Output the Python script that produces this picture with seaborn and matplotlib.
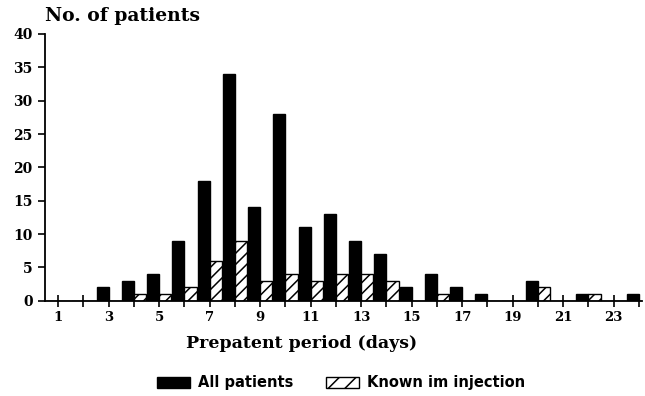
import matplotlib
matplotlib.use("Agg")
import matplotlib.pyplot as plt
from matplotlib.patches import Patch
import seaborn as sns
import pandas as pd

days = list(range(1, 25))
all_patients = [0, 0, 2, 3, 4, 9, 18, 34, 14, 28, 11, 13, 9, 7, 2, 4, 2, 1, 0, 3, 0, 1, 0, 1]
known_im = [0, 0, 0, 1, 1, 2, 6, 9, 3, 4, 3, 4, 4, 3, 0, 1, 0, 0, 0, 2, 0, 1, 0, 0]
groups = ["All patients", "Known im injection"]
y_ticks = [0, 5, 10, 15, 20, 25, 30, 35, 40]
x_labels = [str(d) if d % 2 == 1 else "" for d in days]

df = pd.DataFrame({
    "day": days * 2,
    "count": all_patients + known_im,
    "group": [groups[0]] * len(days) + [groups[1]] * len(days),
})

sns.set_theme(style="ticks")
plt.rcParams["font.family"] = ["DejaVu Serif"]
plt.rcParams["hatch.linewidth"] = 1.1
plt.rcParams["text.color"] = "black"

fig = plt.figure(figsize=(6.45, 3.96), dpi=100)
ax = fig.add_axes([45 / 645, 1 - 300.7 / 396, 597 / 645, (300.7 - 34) / 396])

sns.barplot(data=df, x="day", y="count", hue="group", order=days, hue_order=groups,
            palette=["black", "white"], dodge=True, width=0.96, legend=False,
            edgecolor="black", linewidth=1.0, saturation=1, ax=ax)

for p in ax.containers[1]:
    p.set_facecolor("white")
    p.set_edgecolor("black")
    p.set_hatch("///")

ax.set_ylim(0, 40)
ax.set_xlim(-0.52, 23.12)
ax.set_yticks(y_ticks)
ax.set_yticklabels([str(v) for v in y_ticks], fontsize=10, fontweight="bold", color="black")
ax.set_xticks(range(len(days)))
ax.set_xticklabels(x_labels, fontsize=9.5, fontweight="bold", color="black")
ax.tick_params(axis="x", direction="inout", length=9, width=1.2, pad=3, colors="black")
ax.tick_params(axis="y", direction="out", length=5, width=1.2, pad=4, colors="black")
for s in ["top", "right"]:
    ax.spines[s].set_visible(False)
for s in ["left", "bottom"]:
    ax.spines[s].set_linewidth(1.3)
    ax.spines[s].set_color("black")

ax.set_ylabel("")
ax.set_xlabel("Prepatent period (days)", fontsize=12.5, fontweight="bold", color="black")
ax.xaxis.set_label_coords((302 - 45) / 597, -(344 - 300.7) / (300.7 - 34))
ax.xaxis.label.set_va("center")

fig.text(45 / 645, 1 - 16 / 396, "No. of patients", fontsize=13.5, fontweight="bold",
         ha="left", va="center", color="black")

handles = [Patch(facecolor="black", edgecolor="black", label=groups[0]),
           Patch(facecolor="white", edgecolor="black", hatch="//", label=groups[1])]
fig.legend(handles=handles, loc="center", bbox_to_anchor=(341 / 645, 1 - 383 / 396),
           ncol=2, frameon=False, handlelength=2.3, handleheight=0.85,
           handletextpad=0.55, columnspacing=2.2, labelcolor="black",
           prop={"family": "DejaVu Sans", "weight": "bold", "size": 10.5})

fig.savefig("out.png", dpi=100, facecolor="white")
